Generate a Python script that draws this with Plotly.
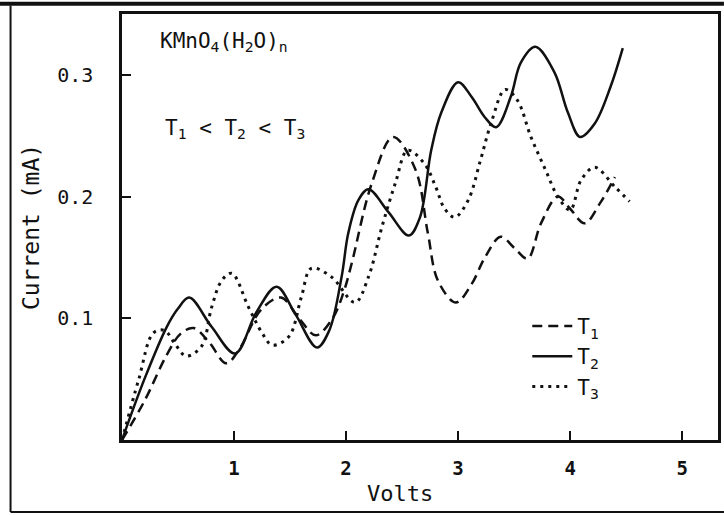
import plotly.graph_objects as go

# ---- data ----
t1_v = [0, 0.2, 0.4, 0.52, 0.64, 0.78, 0.93, 1.05, 1.24, 1.42, 1.58, 1.73, 1.88, 1.98,
        2.05, 2.23, 2.42, 2.62, 2.73, 2.82, 2.98, 3.12, 3.24, 3.38, 3.5, 3.62, 3.74, 3.89,
        4.0, 4.13, 4.27, 4.4]
t1_i = [0, 0.032, 0.07, 0.087, 0.092, 0.08, 0.063, 0.075, 0.107, 0.117, 0.1, 0.086, 0.1, 0.122,
        0.145, 0.211, 0.249, 0.222, 0.17, 0.131, 0.113, 0.128, 0.15, 0.167, 0.158, 0.149, 0.178, 0.2,
        0.19, 0.178, 0.195, 0.216]

t2_v = [0, 0.2, 0.4, 0.5, 0.6, 0.8, 1.01, 1.2, 1.38, 1.55, 1.74, 1.85, 1.96, 2.02, 2.11, 2.2,
        2.38, 2.56, 2.66, 2.76, 2.85, 3.0, 3.12, 3.24, 3.34, 3.47, 3.56, 3.69, 3.86, 3.98, 4.09,
        4.22, 4.36, 4.47]
t2_i = [0, 0.05, 0.093, 0.108, 0.117, 0.093, 0.071, 0.105, 0.126, 0.103, 0.076, 0.09, 0.134, 0.17,
        0.197, 0.206, 0.187, 0.168, 0.183, 0.238, 0.269, 0.294, 0.282, 0.265, 0.257, 0.282, 0.31,
        0.323, 0.302, 0.269, 0.249, 0.26, 0.29, 0.322]

t3_v = [0, 0.15, 0.28, 0.38, 0.48, 0.57, 0.71, 0.8, 0.89, 0.98, 1.13, 1.25, 1.34, 1.49, 1.6,
        1.69, 1.87, 2.08, 2.2, 2.32, 2.44, 2.55, 2.7, 2.8, 2.88, 2.97, 3.09, 3.2, 3.3, 3.42, 3.53,
        3.65, 3.78, 3.89, 4.0, 4.1, 4.22, 4.4, 4.53]
t3_i = [0, 0.05, 0.088, 0.09, 0.078, 0.069, 0.077, 0.109, 0.131, 0.137, 0.109, 0.088, 0.078, 0.085,
        0.117, 0.141, 0.134, 0.113, 0.134, 0.175, 0.211, 0.238, 0.227, 0.208, 0.19, 0.183, 0.197,
        0.23, 0.262, 0.288, 0.279, 0.249, 0.222, 0.2, 0.189, 0.214, 0.224, 0.208, 0.196]

x_ticks = [1, 2, 3, 4, 5]
y_ticks = [0.1, 0.2, 0.3]
y_tick_text = ["0.1", "0.2", "0.3"]

FONT = "DejaVu Sans Mono"
INK = "#111111"

fig = go.Figure()
fig.add_trace(go.Scatter(x=t1_v, y=t1_i, mode="lines", name="T<sub>1</sub>",
                         line=dict(color=INK, width=2.5, dash="10px,6px", shape="spline", smoothing=1)))
fig.add_trace(go.Scatter(x=t2_v, y=t2_i, mode="lines", name="T<sub>2</sub>",
                         line=dict(color=INK, width=2.5, shape="spline", smoothing=1)))
fig.add_trace(go.Scatter(x=t3_v, y=t3_i, mode="lines", name="T<sub>3</sub>",
                         line=dict(color=INK, width=3, dash="3px,5px", shape="spline", smoothing=1)))

fig.update_layout(
    width=724, height=515, autosize=False,
    margin=dict(l=122, r=3, t=14, b=75),
    paper_bgcolor="white", plot_bgcolor="white",
    font=dict(family=FONT, color=INK, size=17),
    showlegend=True,
    legend=dict(x=0.68, y=0.315, xanchor="left", yanchor="top",
                font=dict(family=FONT, size=21, color=INK),
                bgcolor="rgba(0,0,0,0)", itemwidth=40, tracegroupgap=0),
    xaxis=dict(range=[0, 5.32], tickvals=x_ticks, ticks="inside", ticklen=9, tickwidth=2,
               tickcolor=INK, showline=True, linecolor=INK, linewidth=2.5, mirror=True,
               showgrid=False, zeroline=False,
               tickfont=dict(size=19, family=FONT, weight="bold"),
               ticklabelstandoff=9),
    yaxis=dict(range=[0, 0.35], tickvals=y_ticks, ticktext=y_tick_text, ticks="inside",
               ticklen=9, tickwidth=2, tickcolor=INK, showline=True, linecolor=INK,
               linewidth=2.5, mirror=True, showgrid=False, zeroline=False,
               tickfont=dict(size=20, family=FONT), ticklabelstandoff=22,
               title=dict(text="Current (mA)", font=dict(size=23, family=FONT), standoff=12)),
    annotations=[
        dict(text="Volts", xref="paper", yref="paper", x=0.466, y=-0.125, xanchor="center",
             yanchor="middle", showarrow=False, font=dict(size=22, family=FONT)),
        dict(text="KMnO<sub>4</sub>(H<sub>2</sub>O)<sub>n</sub>", xref="paper", yref="paper",
             x=0.06, y=0.935, xanchor="left", yanchor="middle", showarrow=False,
             font=dict(size=21, family=FONT)),
        dict(text="T<sub>1</sub> < T<sub>2</sub> < T<sub>3</sub>", xref="paper", yref="paper",
             x=0.068, y=0.73, xanchor="left", yanchor="middle", showarrow=False,
             font=dict(size=21, family=FONT)),
    ],
    shapes=[
        dict(type="line", xref="paper", yref="paper", x0=-0.187, x1=-0.187, y0=-0.169, y1=1.02,
             line=dict(color=INK, width=2)),
        dict(type="line", xref="paper", yref="paper", x0=-0.187, x1=1.01, y0=-0.169, y1=-0.169,
             line=dict(color=INK, width=2)),
        dict(type="line", xref="paper", yref="paper", x0=-0.21, x1=1.01, y0=1.024, y1=1.024,
             line=dict(color=INK, width=4)),
    ],
)

fig.write_html("out.html", config={"displayModeBar": False},
               post_script="document.body.style.margin='0';")
